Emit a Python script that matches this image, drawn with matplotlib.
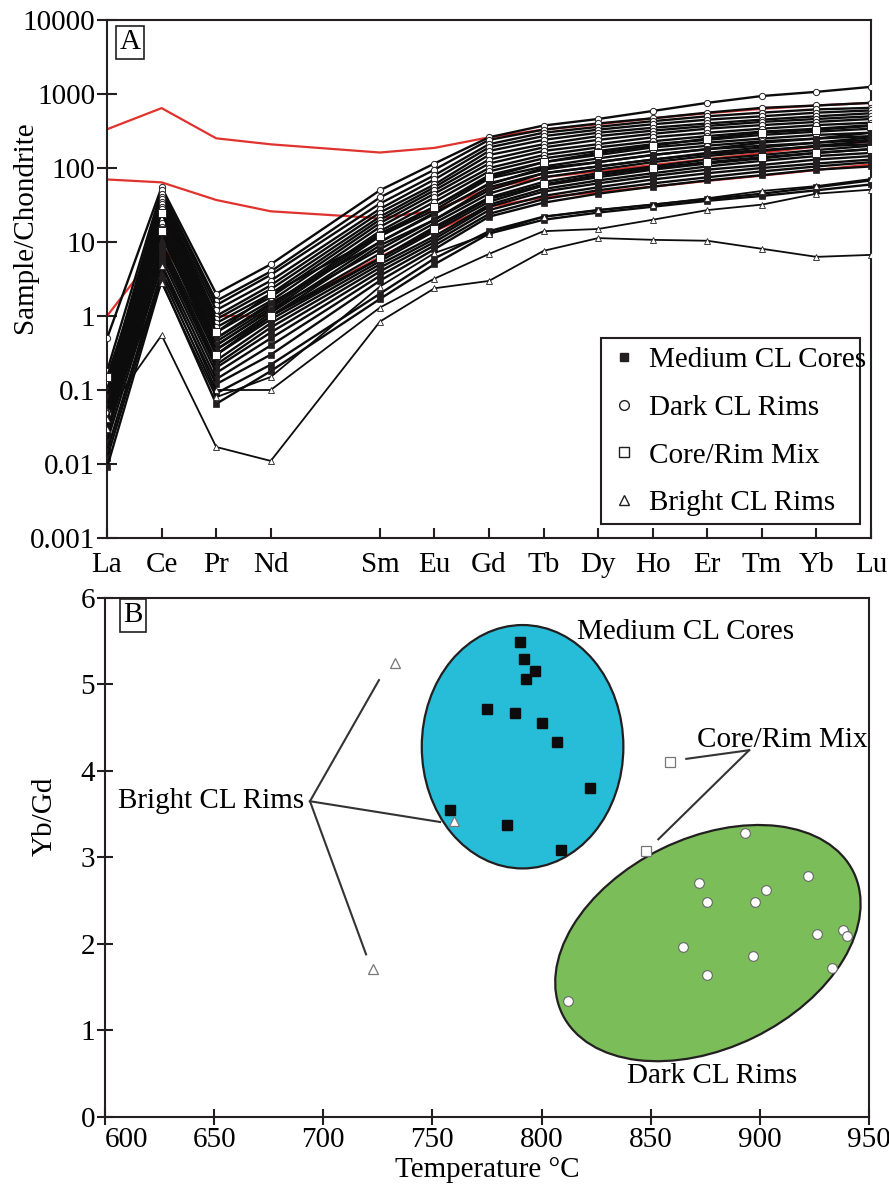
import numpy as np
import matplotlib
matplotlib.use("Agg")
import matplotlib.pyplot as plt
from matplotlib.lines import Line2D
from matplotlib.patches import Ellipse, Rectangle
from matplotlib.transforms import ScaledTranslation

plt.rcParams.update({"font.family": ["Liberation Serif", "DejaVu Serif"], "font.size": 21})

INK = "#231f20"
RED = "#e0332e"
BLUE = "#27bdd9"
GREEN = "#7bbd59"

# ---- panel A: chondrite-normalised REE ----
ree = ["La", "Ce", "Pr", "Nd", "Sm", "Eu", "Gd", "Tb", "Dy", "Ho", "Er", "Tm", "Yb", "Lu"]
ree_z = [57, 58, 59, 60, 62, 63, 64, 65, 66, 67, 68, 69, 70, 71]

ref_lines = [
    [334, 645, 252, 209, 162, 187, 260, 330, 390, 470, 550, 630, 700, 760],
    [70, 64, 37, 26, 21, 26.5, 53, 75, 90, 110, 132, 160, 195, 230],
    [1.0, 9, 1.0, 1.0, 6.3, 14, 30, 40, 47, 56, 67, 79, 94, 112],
]

dark_rims = [
    [0.50, 55, 2.0, 5.0, 50, 115, 260, 375, 460, 590, 760, 940, 1070, 1250],
    [0.18, 50, 1.6, 4.0, 40, 95, 240, 330, 400, 470, 560, 650, 700, 760],
    [0.12, 45, 1.4, 3.6, 33, 80, 210, 300, 360, 430, 500, 560, 620, 650],
    [0.10, 40, 1.2, 3.0, 28, 70, 190, 270, 330, 390, 450, 500, 560, 600],
    [0.08, 38, 1.0, 2.6, 25, 60, 170, 240, 300, 350, 400, 450, 500, 550],
    [0.06, 35, 0.9, 2.3, 22, 55, 150, 210, 270, 320, 370, 420, 460, 500],
    [0.05, 33, 0.8, 2.0, 20, 50, 130, 190, 240, 290, 340, 380, 420, 460],
    [0.04, 30, 0.7, 1.8, 18, 45, 115, 170, 210, 260, 300, 340, 380, 410],
    [0.035, 28, 0.6, 1.6, 16, 40, 100, 150, 190, 230, 270, 310, 340, 380],
    [0.03, 25, 0.5, 1.4, 14, 35, 90, 135, 170, 210, 240, 280, 310, 340],
    [0.025, 23, 0.45, 1.3, 13, 30, 80, 120, 150, 190, 220, 250, 280, 300],
    [0.022, 20, 0.4, 1.2, 12, 27, 72, 105, 135, 170, 200, 230, 250, 270],
    [0.03, 18, 0.35, 1.1, 10, 24, 62, 95, 120, 150, 180, 200, 220, 240],
    [0.04, 16, 0.3, 1.0, 9, 20, 55, 85, 105, 130, 155, 175, 195, 210],
]

medium_cores = [
    [0.10, 15, 0.5, 1.5, 10, 25, 60, 100, 120, 150, 180, 220, 250, 300],
    [0.08, 13, 0.4, 1.2, 8, 20, 50, 85, 105, 130, 160, 190, 220, 260],
    [0.06, 12, 0.35, 1.0, 7, 18, 45, 75, 95, 120, 145, 170, 200, 230],
    [0.05, 10, 0.3, 0.9, 6, 16, 40, 65, 85, 105, 130, 150, 175, 200],
    [0.04, 9, 0.25, 0.8, 5.5, 14, 35, 58, 75, 95, 115, 135, 160, 180],
    [0.035, 8, 0.22, 0.7, 5, 12, 32, 52, 68, 85, 105, 125, 145, 160],
    [0.03, 7, 0.2, 0.6, 4.5, 11, 30, 48, 62, 78, 95, 110, 130, 145],
    [0.025, 6, 0.17, 0.5, 4, 10, 27, 42, 55, 70, 85, 100, 115, 130],
    [0.02, 5, 0.14, 0.4, 3.5, 9, 24, 38, 50, 62, 75, 90, 105, 120],
    [0.015, 4, 0.12, 0.3, 3, 8, 22, 34, 45, 56, 68, 80, 95, 105],
    [0.012, 3.5, 0.09, 0.22, 2, 6, 14, 22, 27, 32, 38, 45, 55, 68],
    [0.009, 3, 0.065, 0.18, 1.7, 5, 13, 20, 25, 30, 36, 42, 50, 60],
]

mix = [
    [0.15, 25, 0.6, 2.0, 12, 30, 75, 120, 160, 200, 250, 300, 330, 370],
    [0.05, 14, 0.3, 1.0, 6, 15, 38, 60, 80, 100, 120, 140, 160, 180],
]

bright_rims = [
    [0.05, 0.55, 0.017, 0.011, 0.84, 2.37, 2.98, 7.6, 11.3, 10.7, 10.4, 8.1, 6.3, 6.7],
    [0.03, 4.8, 0.10, 0.10, 1.3, 3.2, 6.9, 14, 15, 20, 27, 32, 45, 51],
    [0.04, 2.8, 0.08, 0.15, 2.5, 7.1, 13, 22, 27, 32, 39, 49, 57, 71],
]

# ---- panel B: Yb/Gd vs Ti-in-zircon temperature ----
cores_T = [790, 792, 797, 793, 775, 788, 800, 807, 822, 758, 784, 809]
cores_r = [5.49, 5.29, 5.15, 5.06, 4.72, 4.67, 4.55, 4.33, 3.80, 3.55, 3.37, 3.09]
rims_T = [893, 872, 876, 903, 898, 922, 865, 897, 876, 926, 938, 940, 933, 812]
rims_r = [3.28, 2.70, 2.48, 2.62, 2.48, 2.79, 1.97, 1.86, 1.64, 2.11, 2.16, 2.09, 1.72, 1.34]
mix_T = [859, 848]
mix_r = [4.10, 3.08]
bright_T = [733, 760, 723]
bright_r = [5.25, 3.42, 1.71]

fig = plt.figure(figsize=(8.89, 11.85), dpi=100)
axA = fig.add_axes([0.1204, 0.546, 0.8594, 0.4371])
axB = fig.add_axes([0.1181, 0.0574, 0.8594, 0.438])

def frame(ax):
    for s in ax.spines.values():
        s.set_color(INK); s.set_linewidth(1.5)

# -- A --
for vals in ref_lines:
    axA.plot(ree_z, vals, color=RED, lw=1.6, zorder=2)
styles = [
    (dark_rims, dict(marker="o", ms=4.5, mfc="white", mec=INK, mew=0.7)),
    (medium_cores, dict(marker="s", ms=5, mfc=INK, mec=INK, mew=0.5)),
    (mix, dict(marker="s", ms=5.5, mfc="white", mec=INK, mew=0.7)),
    (bright_rims, dict(marker="^", ms=4.5, mfc="white", mec=INK, mew=0.6)),
]
for group, st in styles:
    for vals in group:
        axA.plot(ree_z, vals, color="#0c0c0c", lw=1.3 if group is bright_rims else 1.7, zorder=3, **st)

axA.set_yscale("log")
axA.set_xlim(57, 71)
axA.set_ylim(1e-3, 1e4)
axA.set_xticks(ree_z)
axA.set_xticklabels(ree)
axA.set_yticks([1e-3, 1e-2, 1e-1, 1, 10, 100, 1000, 1e4])
axA.set_yticklabels(["0.001", "0.01", "0.1", "1", "10", "100", "1000", "10000"])
axA.minorticks_off()
axA.tick_params(axis="y", direction="inout", length=15, width=1.5, color=INK, pad=1)
axA.tick_params(axis="x", direction="in", length=7, width=1.5, color=INK, pad=10)
axA.set_ylabel("Sample/Chondrite")
axA.yaxis.set_label_coords(-0.091, 0.6)
frame(axA)
axA.text(0.030, 0.957, "A", transform=axA.transAxes, ha="center", va="center",
         bbox=dict(boxstyle="square,pad=0.12", fc="white", ec=INK, lw=1.2))

handles = [
    Line2D([], [], ls="none", marker="s", ms=6, mfc=INK, mec=INK),
    Line2D([], [], ls="none", marker="o", ms=7, mfc="white", mec=INK, mew=1),
    Line2D([], [], ls="none", marker="s", ms=7, mfc="white", mec=INK, mew=1),
    Line2D([], [], ls="none", marker="^", ms=6.5, mfc="white", mec=INK, mew=1),
]
axA.legend(handles, ["Medium CL Cores", "Dark CL Rims", "Core/Rim Mix", "Bright CL Rims"],
           loc="upper left", bbox_to_anchor=(0.6466, 0.3861), borderaxespad=0,
           frameon=False, borderpad=0.3, labelspacing=0.73, handlelength=1.0,
           handletextpad=0.35)
# legend box is a bit narrower than the longest label
axA.add_patch(Rectangle((0.6466, 0.027), 0.339, 0.359, transform=axA.transAxes,
                        fill=False, ec=INK, lw=1.5, zorder=5))

# -- B --
ell_trans = lambda cx, cy: fig.dpi_scale_trans + ScaledTranslation(cx, cy, axB.transData)
axB.add_patch(Ellipse((0, 0), 2.016, 2.434, fc=BLUE, ec=INK, lw=1.6, zorder=1,
                      transform=ell_trans(791.3, 4.28)))
axB.add_patch(Ellipse((0, 0), 3.24, 2.10, angle=26, fc=GREEN, ec=INK, lw=1.6, zorder=1,
                      transform=ell_trans(876.2, 2.01)))

axB.plot(cores_T, cores_r, ls="none", marker="s", ms=7, mfc="#0c0c0c", mec="#0c0c0c", zorder=4)
axB.plot(rims_T, rims_r, ls="none", marker="o", ms=7, mfc="white", mec="#666666", mew=0.8, zorder=4)
axB.plot(mix_T, mix_r, ls="none", marker="s", ms=7, mfc="white", mec="#777777", mew=0.9, zorder=4)
axB.plot(bright_T, bright_r, ls="none", marker="^", ms=7.5, mfc="white", mec="#777777", mew=0.9, zorder=4)

# leader lines from the group labels
for end in [(725.5, 5.05), (753.5, 3.41), (719.6, 1.88)]:
    axB.plot([693.9, end[0]], [3.65, end[1]], color="#333333", lw=1.5, zorder=3)
for end in [(866.3, 4.14), (853.5, 3.21)]:
    axB.plot([895.1, end[0]], [4.24, end[1]], color="#333333", lw=1.5, zorder=3)

axB.text(816.2, 5.61, "Medium CL Cores", ha="left", va="center")
axB.text(871.2, 4.36, "Core/Rim Mix", ha="left", va="center")
axB.text(606, 3.65, "Bright CL Rims", ha="left", va="center")
axB.text(839.1, 0.47, "Dark CL Rims", ha="left", va="center")

axB.set_xlim(600, 950)
axB.set_ylim(0, 6)
axB.set_xticks(np.arange(600, 951, 50))
axB.set_yticks(range(0, 7))
axB.tick_params(direction="inout", length=12, width=1.5, color=INK, pad=1)
# first temperature label sits right of its tick, clear of the "0"
axB.get_xticklabels()[0].set_horizontalalignment("left")
axB.set_xlabel("Temperature \u00b0C")
axB.xaxis.set_label_coords(0.5, -0.077)
axB.set_ylabel("Yb/Gd")
axB.yaxis.set_label_coords(-0.062, 0.58)
frame(axB)
axB.text(0.0366, 0.967, "B", transform=axB.transAxes, ha="center", va="center",
         bbox=dict(boxstyle="square,pad=0.12", fc="white", ec=INK, lw=1.2))

fig.savefig("out.png", dpi=100, facecolor="white")
